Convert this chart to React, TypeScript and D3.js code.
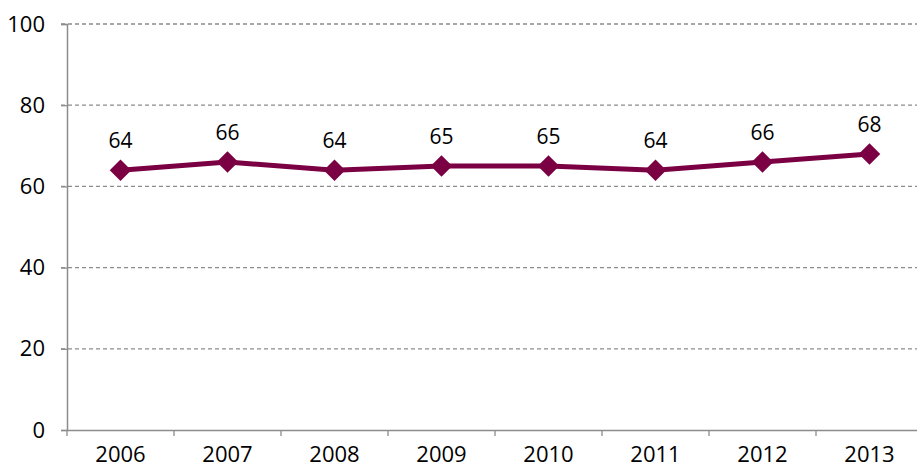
import { FC, useEffect, useRef } from 'react';
import * as d3 from 'd3';

const years = ['2006', '2007', '2008', '2009', '2010', '2011', '2012', '2013'];
const values = [64, 66, 64, 65, 65, 64, 66, 68];
const yTicks = [0, 20, 40, 60, 80, 100];

const W = 917;
const H = 467;

const App: FC = () => {
  const svgRef = useRef<SVGSVGElement>(null);

  useEffect(() => {
    if (!svgRef.current) return;
    const root = d3.select(svgRef.current);
    root.selectAll('*').remove();

    const left = 67;
    const top = 24;
    const bottom = 430;
    const step = 107;

    const x = d3.scaleBand<string>()
      .domain(years)
      .range([left, left + step * years.length]);

    const y = d3.scaleLinear()
      .domain([0, 100])
      .range([bottom, top]);

    const font = '"Open Sans", sans-serif';

    // grid lines
    root.append('g')
      .selectAll('line')
      .data(yTicks.filter(d => d > 0))
      .enter()
      .append('line')
      .attr('x1', left - 6)
      .attr('x2', W)
      .attr('y1', d => y(d))
      .attr('y2', d => y(d))
      .attr('stroke', '#8c8c8c')
      .attr('stroke-width', 1.3)
      .attr('stroke-dasharray', '4,3');

    // y axis
    const yAxis = root.append('g')
      .attr('transform', `translate(${left},0)`)
      .call(d3.axisLeft(y).tickValues(yTicks).tickSize(6).tickPadding(16).tickFormat(d => `${d}`));
    yAxis.select('.domain').attr('stroke', '#8c8c8c').attr('stroke-width', 1.5);
    yAxis.selectAll('line').attr('stroke', '#8c8c8c').attr('stroke-width', 1.3);
    yAxis.selectAll('text')
      .style('font-family', font)
      .style('font-size', '22px')
      .attr('fill', '#000');

    // x axis
    const xAxis = root.append('g')
      .attr('transform', `translate(0,${bottom})`)
      .call(d3.axisBottom(x).tickSize(0).tickPadding(16));
    xAxis.select('.domain').attr('stroke', '#8c8c8c').attr('stroke-width', 1.5);
    xAxis.selectAll('text')
      .style('font-family', font)
      .style('font-size', '22px')
      .attr('fill', '#000');
    xAxis.append('g')
      .selectAll('line')
      .data(years)
      .enter()
      .append('line')
      .attr('x1', d => x(d)!)
      .attr('x2', d => x(d)!)
      .attr('y1', 0)
      .attr('y2', 6)
      .attr('stroke', '#8c8c8c')
      .attr('stroke-width', 1.3);

    const cx = (d: string) => x(d)! + x.bandwidth() / 2;
    const data = years.map((yr, i) => ({ yr, v: values[i] }));

    const line = d3.line<{ yr: string; v: number }>()
      .x(d => cx(d.yr))
      .y(d => y(d.v));

    root.append('path')
      .datum(data)
      .attr('fill', 'none')
      .attr('stroke', '#7a0043')
      .attr('stroke-width', 5)
      .attr('d', line);

    root.append('g')
      .selectAll('path')
      .data(data)
      .enter()
      .append('path')
      .attr('transform', d => `translate(${cx(d.yr)},${y(d.v)}) rotate(45)`)
      .attr('d', 'M-7.6,-7.6H7.6V7.6H-7.6Z')
      .attr('fill', '#7a0043');

    root.append('g')
      .selectAll('text')
      .data(data)
      .enter()
      .append('text')
      .attr('x', d => cx(d.yr))
      .attr('y', d => y(d.v) - 22)
      .attr('text-anchor', 'middle')
      .style('font-family', font)
      .style('font-size', '21px')
      .attr('fill', '#000')
      .text(d => `${d.v}`);
  }, []);

  return (
    <div style={{ position: 'absolute', left: 0, top: 0, width: W, height: H, background: '#fff' }}>
      <svg ref={svgRef} width={W} height={H}></svg>
    </div>
  );
};

export default App;
